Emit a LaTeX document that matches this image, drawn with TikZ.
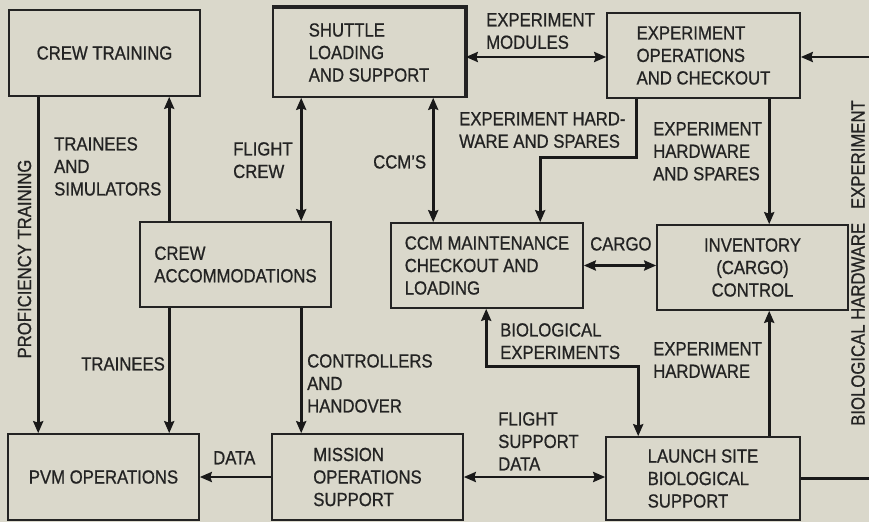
\documentclass[tikz,border=0pt]{standalone}
\usepackage{fontspec}
\setmainfont[FakeStretch=0.88,FakeBold=0.8]{Liberation Sans}
\usetikzlibrary{arrows.meta,calc}
\definecolor{bg}{RGB}{218,216,203}
\definecolor{ink}{RGB}{35,35,35}
\begin{document}
\begin{tikzpicture}[x=1pt,y=-1pt,
  every node/.style={font=\fontsize{19}{22.5}\selectfont, text=ink},
  box/.style={draw=ink, line width=1.6pt, inner sep=0pt},
  lbl/.style={anchor=north west, inner sep=0pt, align=left},
  vlbl/.style={rotate=90, inner sep=0pt},
  tip/.tip={Stealth[length=12pt,width=10pt,inset=1.5pt]},
  conn/.style={line width=2.8pt, draw=black!90},
  arr/.style={conn, -tip},
  dbl/.style={conn, tip-tip}]
\fill[bg] (0,0) rectangle (869,522);
\useasboundingbox (0,0) rectangle (869,522);

% boxes
\node[box, minimum width=191pt, minimum height=86pt] (ct) at (104.5,53) {CREW TRAINING};
\node[box, align=left, minimum width=192pt, minimum height=89pt] (sh) at (369,52.5) {SHUTTLE\\LOADING\\AND SUPPORT};
\draw[line width=3.5pt, ink] (sh.north west) -- (sh.north east) -- (sh.south east);
\node[box, align=left, minimum width=193pt, minimum height=85pt] (eo) at (703.5,55.5) {EXPERIMENT\\OPERATIONS\\AND CHECKOUT};
\node[box, align=left, minimum width=191pt, minimum height=85pt] (acc) at (235.5,264.5) {CREW\\ACCOMMODATIONS};
\node[box, align=left, minimum width=192pt, minimum height=85pt] (ccm) at (487,265.5) {CCM MAINTENANCE\\CHECKOUT AND\\LOADING};
\node[box, align=center, minimum width=191pt, minimum height=85pt] (inv) at (752.5,267.5) {INVENTORY\\(CARGO)\\CONTROL};
\node[box, minimum width=191pt, minimum height=86pt] (pvm) at (103.5,477) {PVM OPERATIONS};
\node[box, align=left, minimum width=191pt, minimum height=86pt] (mos) at (367.5,477) {MISSION\\OPERATIONS\\SUPPORT};
\node[box, align=left, minimum width=194pt, minimum height=83pt] (ls) at (703,478.5) {LAUNCH SITE\\BIOLOGICAL\\SUPPORT};

% helper coordinates
\coordinate (modY) at (0,57);
\coordinate (edgeA) at (869,478.5);
\coordinate (edgeB) at (869,57);

% connectors
\draw[arr] ([xshift=30pt]ct.south west) -- ([xshift=31pt]pvm.north west);
\draw[arr] ([xshift=30pt]acc.north west) -- ([xshift=161pt]ct.south west);
\draw[dbl] ([xshift=29pt]sh.south west) -- ([xshift=162pt]acc.north west);
\draw[dbl] ([xshift=161pt]sh.south west) -- ([xshift=43pt]ccm.north west);
\draw[dbl] (sh.east |- modY) -- (eo.west |- modY);
\draw[arr] ([xshift=30pt]eo.south west) -- ++(0,59) -| ([xshift=150pt]ccm.north west);
\draw[arr] ([xshift=163pt]eo.south west) -- ([xshift=113pt]inv.north west);
\draw[dbl] (ccm.east) -- (inv.west |- ccm.east);
\draw[arr] ([xshift=30pt]acc.south west) -- ([xshift=162pt]pvm.north west);
\draw[arr] ([xshift=162pt]acc.south west) -- ([xshift=30pt]mos.north west);
\draw[arr] (mos.west) -- (pvm.east |- mos.west);
\draw[dbl] (mos.east) -- (ls.west |- mos.east);
\draw[dbl] ([xshift=33pt]ls.north west) -- ++(0,-70) -| ([xshift=96pt]ccm.south west);
\draw[arr] ([xshift=164pt]ls.north west) -- ([xshift=113pt]inv.south west);
\draw[conn] (ls.east) -- (edgeA);
\draw[arr] (edgeB) -- (eo.east |- edgeB);

% labels
\node[lbl] (l1) at (54,137) {TRAINEES\\AND\\SIMULATORS};
\node[lbl] (l2) at (233,142) {FLIGHT\\CREW};
\node[lbl] (l3) at (373,155) {CCM'S};
\node[lbl] (l4) at (486,13) {EXPERIMENT\\MODULES};
\node[lbl] (l5) at (459,112) {EXPERIMENT HARD-\\WARE AND SPARES};
\node[lbl] (l6) at (653,122) {EXPERIMENT\\HARDWARE\\AND SPARES};
\node[lbl] (l7) at (590,237) {CARGO};
\node[lbl] (l8) at (81,357) {TRAINEES};
\node[lbl] (l9) at (307,354) {CONTROLLERS\\AND\\HANDOVER};
\node[lbl] (l10) at (213,451) {DATA};
\node[lbl] (l11) at (498,412) {FLIGHT\\SUPPORT\\DATA};
\node[lbl] (l12) at (500,323) {BIOLOGICAL\\EXPERIMENTS};
\node[lbl] (l13) at (653,342) {EXPERIMENT\\HARDWARE};
\node[vlbl] (l14) at (24.5,259) {PROFICIENCY TRAINING};
\node[vlbl] (l15) at (858,263) {BIOLOGICAL HARDWARE\hspace{14pt}EXPERIMENT};
\end{tikzpicture}
\end{document}
